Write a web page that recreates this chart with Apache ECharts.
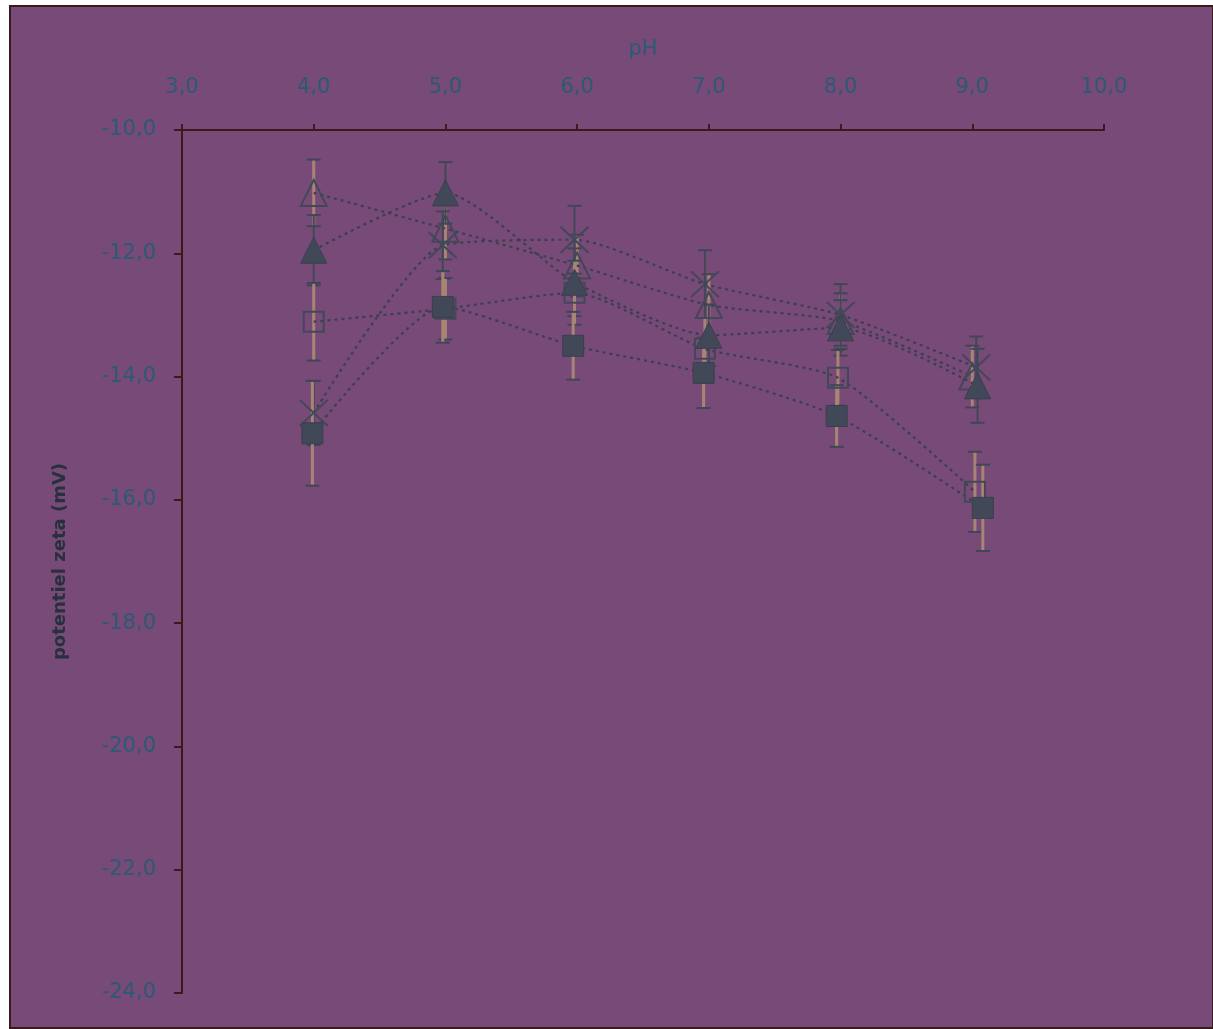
<!DOCTYPE html>
<html>
<head>
<meta charset="utf-8">
<title>potentiel zeta</title>
<script src="https://cdn.jsdelivr.net/npm/echarts@6/dist/echarts.min.js"></script>
<style>
  html, body { margin: 0; padding: 0; background: #ffffff; }
  #frame {
    position: absolute; left: 9px; top: 5px;
    width: 1201px; height: 1020px;
    border: 2px solid #3a1a1a; background: #784a78;
  }
  #chart { position: absolute; left: 0; top: 0; width: 1213px; height: 1029px; }
</style>
</head>
<body>
<div id="frame"></div>
<div id="chart"></div>
<script>
// pH positions of each series
const phOpenTri   = [4.0, 5.0, 6.0, 7.0, 8.0, 9.0];
const phFillTri   = [4.0, 5.0, 5.98, 7.0, 8.0, 9.04];
const phCross     = [4.0, 4.98, 5.98, 6.97, 8.0, 9.03];
const phOpenSq    = [4.0, 5.0, 5.98, 6.97, 7.98, 9.02];
const phFillSq    = [3.99, 4.98, 5.97, 6.96, 7.97, 9.08];

// zeta potential (mV)
const zetaOpenTri = [-11.02, -11.6, -12.2, -12.84, -13.1, -14.0];
const zetaFillTri = [-11.95, -11.02, -12.47, -13.33, -13.21, -14.15];
const zetaCross   = [-14.59, -11.87, -11.78, -12.5, -13.0, -13.85];
const zetaOpenSq  = [-13.11, -12.9, -12.64, -13.55, -14.02, -15.87];
const zetaFillSq  = [-14.92, -12.87, -13.5, -13.94, -14.64, -16.13];

// standard deviations (± mV)
const errOpenTri  = [0.54, 0.5, 0.5, 0.5, 0.45, 0.5];
const errFillTri  = [0.57, 0.5, 0.55, 0.5, 0.45, 0.6];
const errCross    = [0.52, 0.55, 0.55, 0.55, 0.5, 0.5];
const errOpenSq   = [0.63, 0.5, 0.52, 0.5, 0.45, 0.65];
const errFillSq   = [0.85, 0.58, 0.55, 0.57, 0.5, 0.7];

// axis ticks
const phTicks   = [3, 4, 5, 6, 7, 8, 9, 10];
const zetaTicks = [-24, -22, -20, -18, -16, -14, -12, -10];

const DARK = '#414858';
const TAN = '#a68672';
const CAP = '#3f4656';
const LINE = '#3a4050';
const LABEL = '#2b5a74';

const fmt = v => Number(v).toFixed(1).replace('.', ',');

function pairs(xs, ys) { return xs.map((x, i) => [x, ys[i]]); }

function errorSeries(xs, ys, errs, stemColor, stemWidth) {
  return {
    type: 'custom',
    z: 1,
    silent: true,
    data: xs.map((x, i) => [x, ys[i] - errs[i], ys[i] + errs[i]]),
    renderItem: function (params, api) {
      const x = api.value(0);
      const lo = api.coord([x, api.value(1)]);
      const hi = api.coord([x, api.value(2)]);
      const half = 7;
      return {
        type: 'group',
        children: [
          { type: 'line', shape: { x1: lo[0], y1: lo[1], x2: hi[0], y2: hi[1] },
            style: { stroke: stemColor, lineWidth: stemWidth } },
          { type: 'line', shape: { x1: lo[0] - half, y1: lo[1], x2: lo[0] + half, y2: lo[1] },
            style: { stroke: CAP, lineWidth: 2 } },
          { type: 'line', shape: { x1: hi[0] - half, y1: hi[1], x2: hi[0] + half, y2: hi[1] },
            style: { stroke: CAP, lineWidth: 2 } }
        ]
      };
    }
  };
}

function lineSeries(name, xs, ys, symbol, size, filled) {
  return {
    name: name,
    type: 'line',
    z: 3,
    smooth: 0.2,
    data: pairs(xs, ys),
    symbol: symbol,
    symbolSize: size,
    showAllSymbol: true,
    lineStyle: { color: LINE, width: 2.2, type: [3, 4] },
    itemStyle: filled
      ? { color: DARK, borderColor: '#3a3f4e', borderWidth: 1, borderRadius: 2 }
      : { color: 'rgba(0,0,0,0)', borderColor: DARK, borderWidth: 2 },
    emphasis: { disabled: true }
  };
}

const chart = echarts.init(document.getElementById('chart'), null, { renderer: 'canvas' });

chart.setOption({
  animation: false,
  backgroundColor: 'transparent',
  grid: { left: 182, right: 109, top: 130, bottom: 36, containLabel: false },
  xAxis: {
    type: 'value',
    position: 'top',
    min: phTicks[0],
    max: phTicks[phTicks.length - 1],
    interval: 1,
    name: 'pH',
    nameLocation: 'middle',
    nameGap: 70,
    nameTextStyle: { color: LABEL, fontFamily: 'DejaVu Sans', fontSize: 21 },
    axisLine: { onZero: false, lineStyle: { color: '#3a1a1a', width: 2 } },
    axisTick: { show: true, length: 6, lineStyle: { color: '#3a1a1a', width: 2 } },
    axisLabel: { formatter: fmt, margin: 32, color: LABEL, fontFamily: 'DejaVu Sans', fontSize: 21 },
    splitLine: { show: false }
  },
  yAxis: {
    type: 'value',
    min: zetaTicks[0],
    max: zetaTicks[zetaTicks.length - 1],
    interval: 2,
    name: 'potentiel zeta (mV)',
    nameLocation: 'middle',
    nameGap: 113,
    nameRotate: 90,
    nameTextStyle: { color: '#26303e', fontFamily: 'DejaVu Sans', fontSize: 18, fontWeight: 'bold' },
    axisLine: { onZero: false, lineStyle: { color: '#3a1a1a', width: 2 } },
    axisTick: { show: true, length: 8, lineStyle: { color: '#3a1a1a', width: 2 } },
    axisLabel: { formatter: fmt, margin: 26, color: LABEL, fontFamily: 'DejaVu Sans', fontSize: 21 },
    splitLine: { show: false }
  },
  series: [
    errorSeries(phOpenTri, zetaOpenTri, errOpenTri, TAN, 3),
    errorSeries(phFillTri, zetaFillTri, errFillTri, DARK, 2),
    errorSeries(phCross, zetaCross, errCross, DARK, 2),
    errorSeries(phOpenSq, zetaOpenSq, errOpenSq, TAN, 3),
    errorSeries(phFillSq, zetaFillSq, errFillSq, TAN, 3),
    lineSeries('open triangle', phOpenTri, zetaOpenTri, 'triangle', [26, 26], false),
    lineSeries('open square', phOpenSq, zetaOpenSq, 'rect', [20, 20], false),
    lineSeries('cross', phCross, zetaCross, 'path://M0,0L20,18M20,0L0,18', [28, 26], false),
    lineSeries('filled triangle', phFillTri, zetaFillTri, 'triangle', [26, 26], true),
    lineSeries('filled square', phFillSq, zetaFillSq, 'rect', [21, 21], true)
  ]
});
</script>
</body>
</html>
